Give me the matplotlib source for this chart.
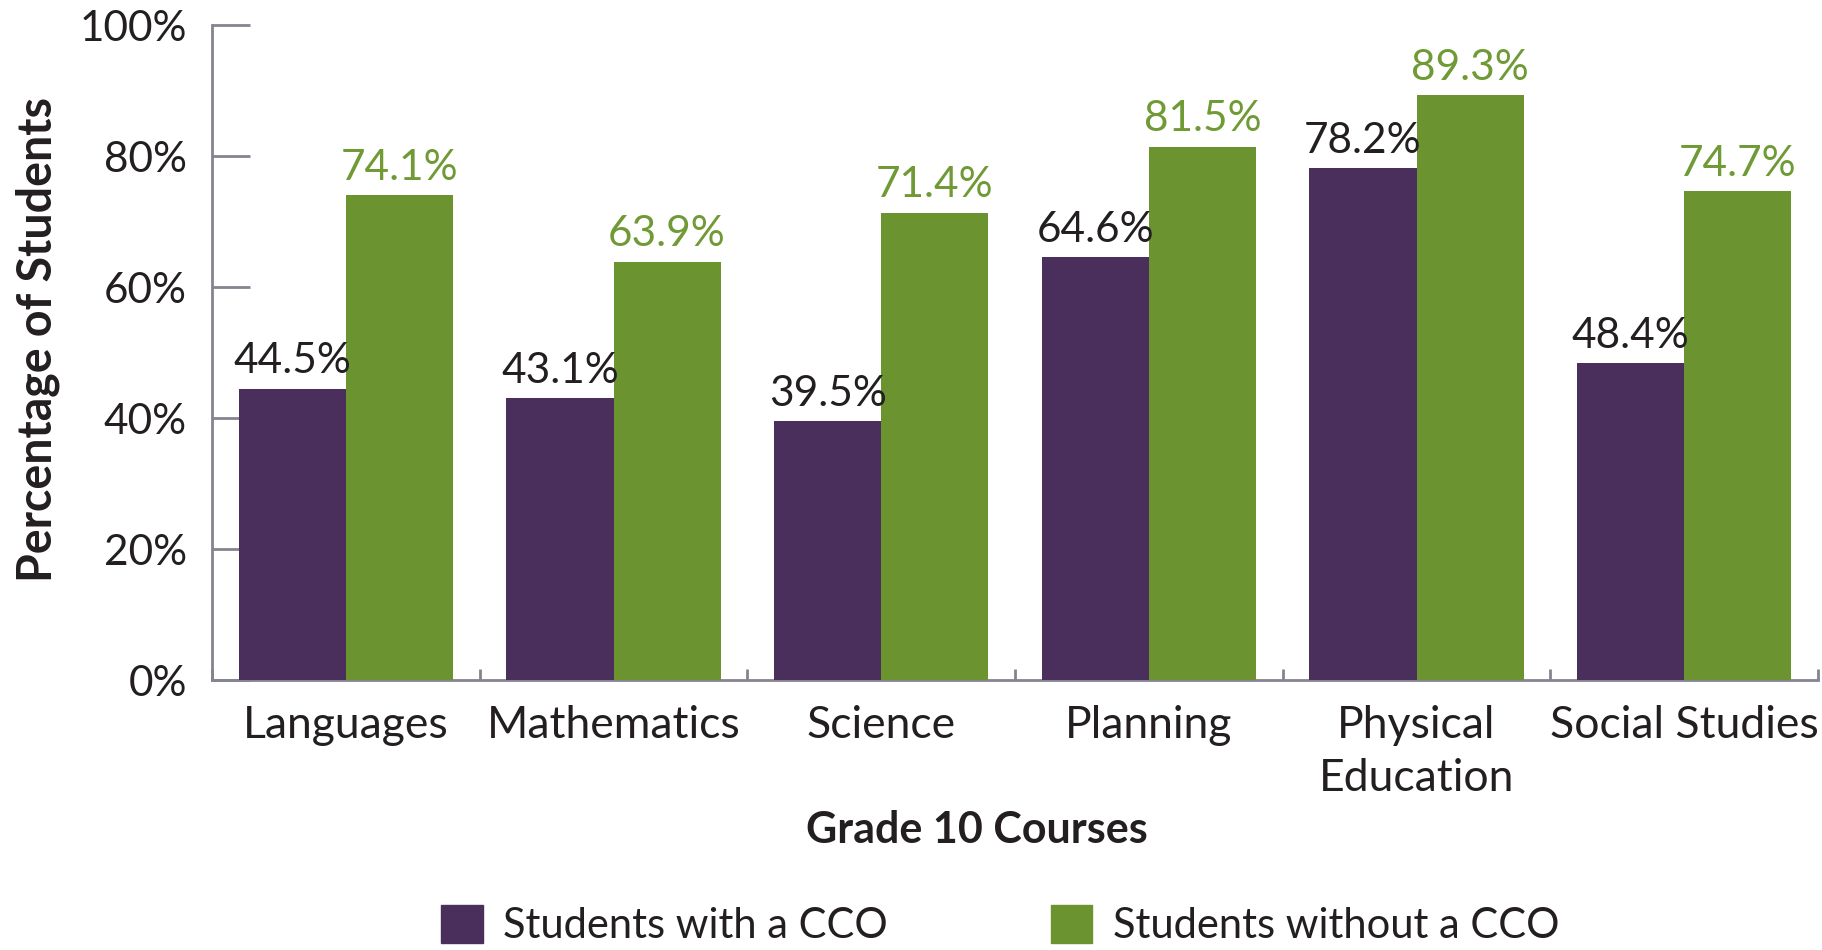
import matplotlib.pyplot as plt
from matplotlib.patches import Patch
import numpy as np

courses = ["Languages", "Mathematics", "Science", "Planning", "Physical\nEducation", "Social Studies"]
with_cco = [44.5, 43.1, 39.5, 64.6, 78.2, 48.4]
without_cco = [74.1, 63.9, 71.4, 81.5, 89.3, 74.7]
yticks = [0, 20, 40, 60, 80, 100]

purple = "#4a2f5c"
green = "#6b9431"
label_green = "#6f9a35"
dark = "#231f20"
axis_grey = "#85838f"

plt.rcParams['font.family'] = ['Lato', 'DejaVu Sans']

fig = plt.figure(figsize=(18.22, 9.5), dpi=100)
ax = fig.add_axes([0.1164, 0.2842, 0.8814, 0.689])

x = np.arange(len(courses))
w = 0.4
b1 = ax.bar(x - w/2, with_cco, w, color=purple, zorder=3)
b2 = ax.bar(x + w/2, without_cco, w, color=green, zorder=3)

for rect, v in zip(b1, with_cco):
    ax.annotate(f"{v}%", (rect.get_x() + rect.get_width()/2, v), xytext=(0, 6),
                textcoords="offset points", ha="center", va="bottom",
                fontsize=30.5, color=dark, zorder=4)
for rect, v in zip(b2, without_cco):
    ax.annotate(f"{v}%", (rect.get_x() + rect.get_width()/2, v), xytext=(0, 6),
                textcoords="offset points", ha="center", va="bottom",
                fontsize=30.5, color=label_green, zorder=4)

ax.set_xlim(-0.5, len(courses) - 0.5)
ax.set_ylim(0, 100)
ax.set_yticks(yticks)
ax.set_yticklabels([f"{t}%" for t in yticks])
ax.set_xticks(x)
ax.set_xticklabels(courses, linespacing=1.35)
ax.set_xticks(np.arange(len(courses) + 1) - 0.5, minor=True)

ax.tick_params(axis="y", direction="in", length=27, width=2, color=axis_grey,
               labelsize=30.5, labelcolor=dark, pad=18)
ax.tick_params(axis="x", which="major", length=0, labelsize=32, labelcolor=dark, pad=18)
ax.tick_params(axis="x", which="minor", direction="in", length=8, width=2, color=axis_grey)

for s in ["top", "right"]:
    ax.spines[s].set_visible(False)
for s in ["left", "bottom"]:
    ax.spines[s].set_color(axis_grey)
    ax.spines[s].set_linewidth(2)
ax.set_axisbelow(True)

ax.set_ylabel("Percentage of Students", fontsize=33.5, fontweight="bold", color=dark)
ax.yaxis.set_label_coords(-0.095, 0.52)
ax.set_xlabel("Grade 10 Courses", fontsize=31, fontweight="bold", color=dark)
ax.xaxis.set_label_coords(0.476, -0.199)

handles = [Patch(color=purple, label="Students with a CCO"),
           Patch(color=green, label="Students without a CCO")]
fig.legend(handles=handles, loc="center", bbox_to_anchor=(0.549, 0.026), ncol=2,
           frameon=False, fontsize=30, handlelength=1, handleheight=1,
           handletextpad=0.5, columnspacing=3.9, labelcolor=dark)

fig.savefig("out.png", dpi=100)
